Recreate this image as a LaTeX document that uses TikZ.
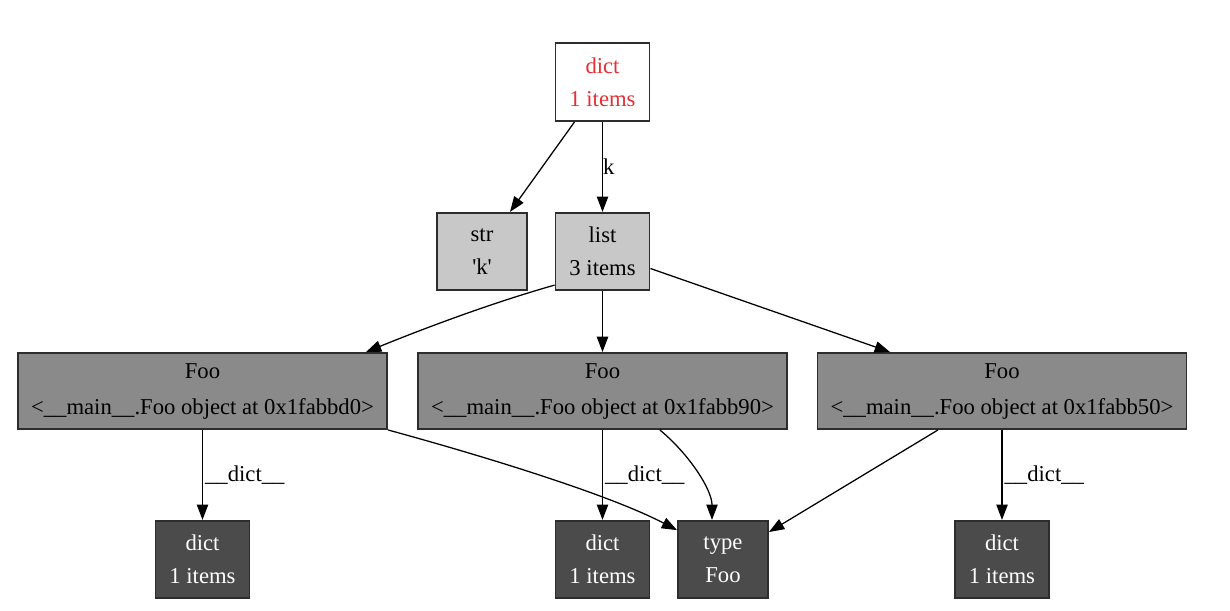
\documentclass[tikz,border=0pt]{standalone}
\usepackage{fontspec}
\setmainfont{Liberation Serif}
\usetikzlibrary{arrows.meta,calc}
\definecolor{redtxt}{RGB}{228,48,52}
\definecolor{foofill}{RGB}{138,138,138}
\definecolor{lightfill}{RGB}{200,200,200}
\definecolor{darkfill}{RGB}{75,75,75}
\definecolor{bordc}{RGB}{45,45,45}
\begin{document}
\begin{tikzpicture}[x=0.75pt,y=-0.75pt,
  nbox/.style={draw=bordc,line width=1.4pt,align=center,inner sep=0pt,
    font=\fontsize{17}{25}\selectfont},
  whitebox/.style={nbox,fill=white,text=redtxt,minimum width=70.5pt,minimum height=58.5pt},
  lightbox/.style={nbox,fill=lightfill,text=black,minimum width=70.5pt,minimum height=58pt},
  foobox/.style={nbox,fill=foofill,text=black,minimum width=276.75pt,minimum height=57pt,
    font=\fontsize{17}{27}\selectfont},
  darkbox/.style={nbox,fill=darkfill,text=white,minimum width=70.5pt,minimum height=58pt},
  conn/.style={draw=black,line width=0.95pt,-{Triangle[length=11.5pt,width=8.5pt]}},
  lab/.style={font=\fontsize{17}{20}\selectfont,inner sep=1.5pt,anchor=west}]
\useasboundingbox (0,0) rectangle (1230,610);
\fill[white] (0,0) rectangle (1230,610);

% nodes
\node[whitebox] (d0) at (602.5,82) {dict\\1 items};
\node[lightbox,minimum width=67.5pt] (s) at (482,251.5) {str\\\textquotesingle k\textquotesingle};
\node[lightbox] (l) at (602.5,251.5) {list\\3 items};
\node[foobox] (f1) at (202.5,391) {Foo\\<\_\_main\_\_.Foo object at 0x1fabbd0>};
\node[foobox] (f2) at (602.5,391) {Foo\\<\_\_main\_\_.Foo object at 0x1fabb90>};
\node[foobox] (f3) at (1002,391) {Foo\\<\_\_main\_\_.Foo object at 0x1fabb50>};
\node[darkbox] (dd1) at (202.5,559.5) {dict\\1 items};
\node[darkbox] (dd2) at (602.5,559.5) {dict\\1 items};
\node[darkbox,minimum width=67.5pt] (ty) at (723,559.5) {type\\Foo};
\node[darkbox] (dd3) at (1002,559.5) {dict\\1 items};

% connectors
\draw[conn] ([xshift=-21pt]d0.south) -- ([xshift=21pt]s.north);
\draw[conn] (d0) -- node[lab,inner sep=0pt]{k} (l);
\draw[conn] ([yshift=4.5pt]l.south west) .. controls (495,302) and (430,326) .. ([xshift=-16.5pt]f1.north east);
\draw[conn] (l) -- (f2);
\draw[conn] ([yshift=-12.75pt]l.east) -- ([xshift=-84pt]f3.north);
\draw[conn] (f1) -- node[lab]{\_\_dict\_\_} (dd1);
\draw[conn] (f2) -- node[lab]{\_\_dict\_\_} (dd2);
\draw[conn] (f3) -- node[lab]{\_\_dict\_\_} (dd3);
\draw[conn] (f1.south east) .. controls (487,457) and (610,495) .. ([yshift=22pt]ty.west);
\draw[conn] ([xshift=43pt]f2.south) .. controls (690,455) and (712,490) .. ([xshift=-8.25pt]ty.north);
\draw[conn] ([xshift=-48pt]f3.south) -- ([yshift=20.6pt]ty.east);
\end{tikzpicture}
\end{document}
